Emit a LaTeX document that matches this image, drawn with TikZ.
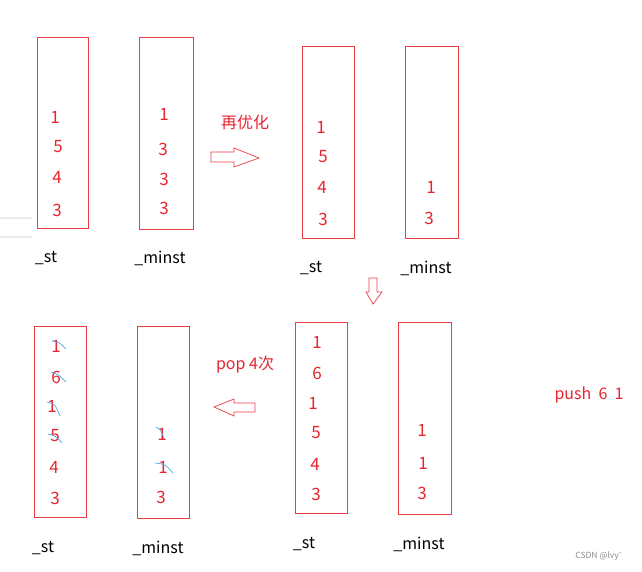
\documentclass[tikz,border=0pt]{standalone}
\usepackage{fontspec}
\setmainfont{Noto Sans CJK SC}
\definecolor{boxred}{RGB}{236,60,70}
\definecolor{numred}{RGB}{232,36,46}
\definecolor{strike}{RGB}{70,170,230}
\begin{document}
\begin{tikzpicture}[x=1pt,y=-1pt,
  stackbox/.style={draw=boxred,line width=0.9pt},
  num/.style={text=numred,font=\fontsize{17}{17}\selectfont,inner sep=0pt,anchor=center},
  lbl/.style={text=black,font=\fontsize{16}{16}\selectfont,inner sep=0pt,anchor=center},
  cjk/.style={text=numred,font=\fontsize{16}{16}\selectfont,inner sep=0pt,anchor=center},
  blockarrow/.style={draw=boxred,line width=0.7pt,fill=white,line join=miter},
  strikemark/.style={draw=strike,line width=0.7pt}]
\useasboundingbox (0,0) rectangle (642,571);
% faint lines at left
\draw[black!8,line width=1.2pt] (0,218) -- (32,218);
\draw[black!8,line width=1.2pt] (0,237) -- (32,237);
% ---------- top left ----------
\draw[stackbox] (37,37) rectangle (88,228);
\draw[stackbox] (139,37) rectangle (193,229);
\node[num] (a1) at (55,117) {1};
\node[num] (a2) at (58,147) {5};
\node[num] (a3) at (57,177) {4};
\node[num] (a4) at (57,210) {3};
\node[num] (b1) at (164,114) {1};
\node[num] (b2) at (163,149) {3};
\node[num] (b3) at (164,179) {3};
\node[num] (b4) at (164,208) {3};
\node[lbl] (la) at (46,258) {\_st};
\node[lbl] (lb) at (160,258) {\_minst};
% ---------- arrow 1 ----------
\node[cjk] (t1) at (245,122) {再优化};
\draw[blockarrow] (211,152) -- (234,152) -- (234,148) -- (259,158) -- (234,167) -- (234,162) -- (211,162) -- cycle;
% ---------- top right ----------
\draw[stackbox] (302,46) rectangle (354,238);
\draw[stackbox] (405,46) rectangle (458,238);
\node[num] (c1) at (321,127) {1};
\node[num] (c2) at (323,157) {5};
\node[num] (c3) at (322,187) {4};
\node[num] (c4) at (323,219) {3};
\node[num] (d1) at (431,187) {1};
\node[num] (d2) at (429,218) {3};
\node[lbl] (lc) at (311,268) {\_st};
\node[lbl] (ld) at (426,268) {\_minst};
% ---------- arrow down ----------
\draw[blockarrow] (369,278) -- (377,278) -- (377,292) -- (382,292) -- (373,304) -- (366,292) -- (369,292) -- cycle;
% ---------- bottom right ----------
\draw[stackbox] (295,322) rectangle (347,513);
\draw[stackbox] (398,322) rectangle (451,514);
\node[num] (e1) at (317,342) {1};
\node[num] (e2) at (317,373) {6};
\node[num] (e3) at (313,403) {1};
\node[num] (e4) at (316,433) {5};
\node[num] (e5) at (315,464) {4};
\node[num] (e6) at (316,494) {3};
\node[num] (f1) at (422,430) {1};
\node[num] (f2) at (423,463) {1};
\node[num] (f3) at (422,493) {3};
\node[lbl] (le) at (304,544) {\_st};
\node[lbl] (lf) at (419,544) {\_minst};
\node[cjk] (push) at (589,395) {push\ \ 6\ \ 1};
% ---------- arrow left ----------
\node[cjk] (t2) at (245,365) {pop 4次};
\draw[blockarrow] (255,403) -- (234,403) -- (234,399) -- (214,407) -- (234,416) -- (234,412) -- (255,412) -- cycle;
% ---------- bottom left ----------
\draw[stackbox] (34,326) rectangle (86,517);
\draw[stackbox] (137,326) rectangle (189,518);
\node[num] (g1) at (56,346) {1};
\node[num] (g2) at (56,377) {6};
\node[num] (g3) at (52,406) {1};
\node[num] (g4) at (55,436) {5};
\node[num] (g5) at (54,467) {4};
\node[num] (g6) at (55,498) {3};
\node[num] (h1) at (162,434) {1};
\node[num] (h2) at (163,467) {1};
\node[num] (h3) at (161,497) {3};
\node[lbl] (lg) at (43,548) {\_st};
\node[lbl] (lh) at (158,548) {\_minst};
% strike marks
\draw[strikemark] (52,341) .. controls (59,342) .. (66,349);
\draw[strikemark] (51,372) .. controls (58,374) .. (66,382);
\draw[strikemark] (47,402) .. controls (55,404) .. (60,416);
\draw[strikemark] (48,434) .. controls (56,436) .. (62,443);
\draw[strikemark] (156,427) .. controls (161,430) .. (164,439);
\draw[strikemark] (155,463) .. controls (165,464) .. (173,473);
% watermark
\node[text=black!45,font=\fontsize{8.5}{8.5}\selectfont,inner sep=0pt] (wm) at (599,556) {CSDN @lvy\textsuperscript{\~{}}};
\end{tikzpicture}
\end{document}
